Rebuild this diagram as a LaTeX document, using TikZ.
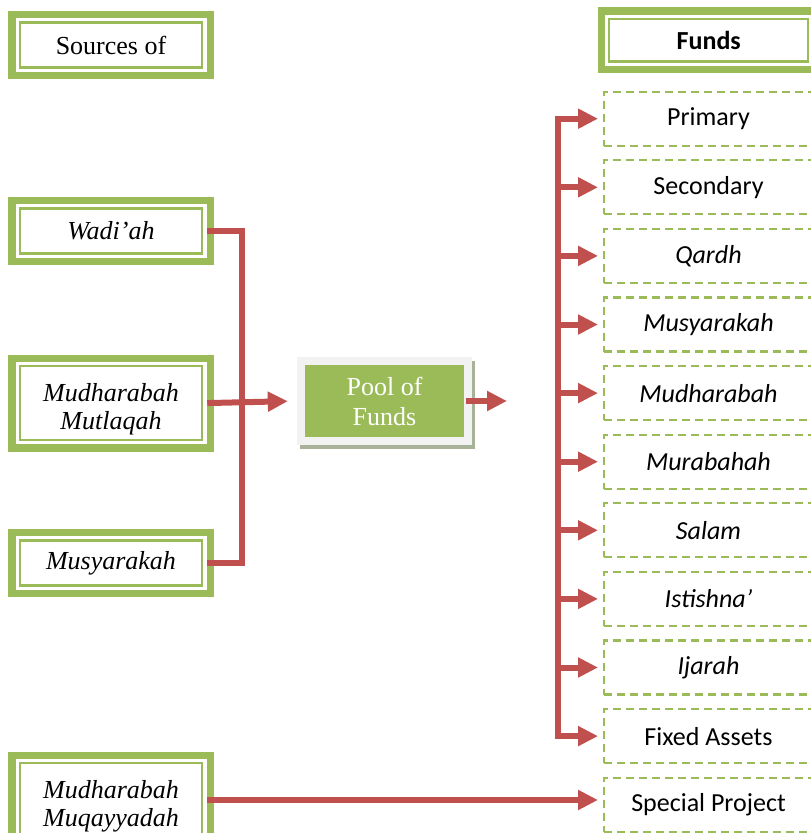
\documentclass[tikz,border=0pt]{standalone}
\usepackage{fontspec}
\setmainfont{Liberation Serif}
\newfontfamily\calfont{Carlito}
\usetikzlibrary{arrows.meta, positioning, shadows}
\definecolor{frgreen}{HTML}{9BBB59}
\definecolor{arrred}{HTML}{C0504D}
\definecolor{panelgray}{HTML}{F2F2F2}
\definecolor{shadegray}{RGB}{168,178,152}
\tikzset{
    srcbox/.style={draw=frgreen, line width=7.5pt, fill=white, inner sep=0pt, outer sep=0pt, align=center,
        minimum width=198.5pt, minimum height=61pt, font=\fontsize{26}{28}\selectfont,
        path picture={\draw[frgreen, line width=2.3pt]
            ([shift={(8pt,8pt)}]path picture bounding box.south west) rectangle
            ([shift={(-8pt,-8pt)}]path picture bounding box.north east);}},
    srcbig/.style={srcbox, minimum height=89.5pt},
    usebox/.style={draw=frgreen, line width=2.2pt, dash pattern=on 8pt off 5pt, fill=white,
        minimum width=209pt, minimum height=54pt, inner sep=0pt, outer sep=0pt,
        font=\calfont\fontsize{26}{28}\selectfont},
    poolbox/.style={fill=panelgray, minimum width=175pt, minimum height=88pt, inner sep=0pt, align=center,
        text=white, font=\fontsize{26}{30}\selectfont,
        drop shadow={shadow xshift=3pt, shadow yshift=-4pt, fill=shadegray, opacity=1},
        path picture={\fill[frgreen]
            ([shift={(8pt,8pt)}]path picture bounding box.south west) rectangle
            ([shift={(-8pt,-8pt)}]path picture bounding box.north east);}},
    redline/.style={draw=arrred, line width=6pt, line cap=rect},
    redarrow/.style={redline, -{Triangle[length=20pt, width=19pt]}}
}
\begin{document}
\begin{tikzpicture}[x=1pt, y=-1pt]
    \useasboundingbox (0,0) rectangle (811,833);
    \clip (0,0) rectangle (811,833);

    % sources
    \node [srcbox] (sources) at (111,45) {Sources of};
    \node [srcbox, font=\fontsize{26}{28}\selectfont\itshape] (wadiah) at (111,231) {Wadi’ah};
    \node [srcbig, font=\fontsize{26}{28}\selectfont\itshape] (mutlaqah) at (111,403) {\rule{0pt}{30pt}Mudharabah\\Mutlaqah};
    \node [srcbox, font=\fontsize{26}{28}\selectfont\itshape] (musyarakah) at (111,563) {Musyarakah};
    \node [srcbig, font=\fontsize{26}{28}\selectfont\itshape] (muqayyadah) at (111,800) {\rule{0pt}{30pt}Mudharabah\\Muqayyadah};

    \node [poolbox] (pool) at (384.5,401) {Pool of\\Funds};

    % uses of funds
    \node [srcbox, minimum width=215pt, minimum height=58.5pt, font=\calfont\bfseries\fontsize{26}{28}\selectfont] (funds) at (708.75,40.3) {Funds};
    \node [usebox] (primary) at (708.5,118.7) {Primary};
    \node [usebox, below=14.6pt of primary] (secondary) {Secondary};
    \node [usebox, below=14.6pt of secondary] (qardh) {\itshape Qardh};
    \node [usebox, below=14.6pt of qardh] (musy) {\itshape Musyarakah};
    \node [usebox, below=14.6pt of musy] (mudh) {\itshape Mudharabah};
    \node [usebox, below=14.6pt of mudh] (murabahah) {\itshape Murabahah};
    \node [usebox, below=14.6pt of murabahah] (salam) {\itshape Salam};
    \node [usebox, below=14.6pt of salam] (istishna) {\itshape Istishna’};
    \node [usebox, below=14.6pt of istishna] (ijarah) {\itshape Ijarah};
    \node [usebox, below=14.6pt of ijarah] (fixed) {Fixed Assets};
    \node [usebox, below=14.6pt of fixed] (special) {Special Project};

    % connectors
    \coordinate (lbus) at (242,403);
    \coordinate (poolout) at (507,401);
    \coordinate (rbus) at (558,0);
    \path [redline] (wadiah.east) -| (lbus) |- (musyarakah.east);
    \path [redarrow, shorten >=9pt] (mutlaqah.east) -- (pool.west);
    \path [redarrow] ([xshift=-3pt]pool.east) -- (poolout);
    \path [redline] (rbus |- primary.west) -- (rbus |- fixed.west);
    \foreach \b in {primary, secondary, qardh, musy, mudh, murabahah, salam, istishna, ijarah, fixed}
        \path [redarrow, shorten >=6pt] (rbus |- \b.west) -- (\b.west);
    \path [redarrow, shorten >=6pt] (muqayyadah.east) -- (muqayyadah.east -| special.west);
\end{tikzpicture}
\end{document}
